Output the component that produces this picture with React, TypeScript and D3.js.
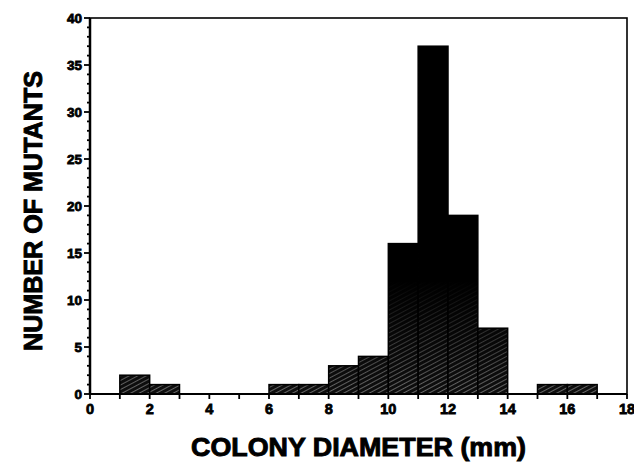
import React from "react";
import * as d3 from "d3";

const binStarts = [1, 2, 6, 7, 8, 9, 10, 11, 12, 13, 15, 16];
const counts = [2, 1, 1, 1, 3, 4, 16, 37, 19, 7, 1, 1];
const xTickLabels = [0, 2, 4, 6, 8, 10, 12, 14, 16, 18];
const yTickLabels = [0, 5, 10, 15, 20, 25, 30, 35, 40];

const W = 634;
const H = 463;
const M = { left: 90, right: 7, top: 18, bottom: 69 };

export default function App() {
  const x = d3.scaleLinear().domain([0, 18]).range([M.left, W - M.right]);
  const y = d3.scaleLinear().domain([0, 40]).range([H - M.bottom, M.top]);
  const font = "'Liberation Sans', Arial, Helvetica, sans-serif";
  const minorY = d3.range(0, 41, 1);
  const minorX = d3.range(0, 19, 1);
  const y0 = y(0);
  return (
    <svg width={W} height={H} style={{ position: "absolute", left: 0, top: 0, background: "#fff" }}>
      <defs>
        <pattern id="hatch" patternUnits="userSpaceOnUse" width="4" height="4" patternTransform="rotate(62)">
          <rect width="4" height="4" fill="#111" />
          <line x1="0" y1="0" x2="0" y2="4" stroke="#fff" strokeWidth="0.9" />
        </pattern>
        <linearGradient id="dark" gradientUnits="userSpaceOnUse" x1="0" y1={y0} x2="0" y2={y(12)}>
          <stop offset="0" stopColor="#000" stopOpacity="0.15" />
          <stop offset="1" stopColor="#000" stopOpacity="1" />
        </linearGradient>
      </defs>
      {binStarts.map((s, i) => (
        <g key={i}>
          <rect x={x(s)} y={y(counts[i])} width={x(s + 1) - x(s)} height={y0 - y(counts[i])} fill="url(#hatch)" />
          <rect x={x(s)} y={y(counts[i])} width={x(s + 1) - x(s)} height={y0 - y(counts[i])} fill="url(#dark)" />
          <rect x={x(s)} y={y(counts[i])} width={x(s + 1) - x(s)} height={y0 - y(counts[i])} fill="none" stroke="#000" strokeWidth="1.5" />
        </g>
      ))}
      {/* frame */}
      <rect x={x(0)} y={y(40)} width={x(18) - x(0)} height={y0 - y(40)} fill="none" stroke="#000" strokeWidth="1.6" />
      <line x1={x(0)} x2={x(0)} y1={y(40)} y2={y0} stroke="#000" strokeWidth="2.5" />
      <line x1={x(0)} x2={x(18)} y1={y0} y2={y0} stroke="#000" strokeWidth="2" />
      {/* y ticks */}
      {minorY.map((v) => (
        <line key={"yt" + v} x1={x(0) - (v % 5 === 0 ? 6 : 3)} x2={x(0)} y1={y(v)} y2={y(v)} stroke="#000" strokeWidth="1.8" />
      ))}
      {yTickLabels.map((v) => (
        <text key={"yl" + v} x={x(0) - 8} y={y(v)} dy="0.35em" textAnchor="end" fontFamily={font} fontWeight="bold" fontSize="13.5" stroke="#000" strokeWidth="0.8">
          {v}
        </text>
      ))}
      {/* x ticks */}
      {minorX.map((v) => (
        <line key={"xt" + v} x1={x(v)} x2={x(v)} y1={y0} y2={y0 + 5} stroke="#000" strokeWidth="1.8" />
      ))}
      {xTickLabels.map((v) => (
        <text key={"xl" + v} x={x(v)} y={y0 + 20} textAnchor="middle" fontFamily={font} fontWeight="bold" fontSize="14.5" stroke="#000" strokeWidth="0.8">
          {v}
        </text>
      ))}
      <text x={(x(0) + x(18)) / 2} y={H - 7} textAnchor="middle" fontFamily={font} fontWeight="bold" fontSize="25" stroke="#000" strokeWidth="0.9" textLength="335" lengthAdjust="spacingAndGlyphs">
        COLONY DIAMETER (mm)
      </text>
      <text transform={`translate(42,${(y(0) + y(40)) / 2 + 5}) rotate(-90)`} textAnchor="middle" fontFamily={font} fontWeight="bold" fontSize="25" stroke="#000" strokeWidth="0.9" textLength="280" lengthAdjust="spacingAndGlyphs">
        NUMBER OF MUTANTS
      </text>
    </svg>
  );
}
